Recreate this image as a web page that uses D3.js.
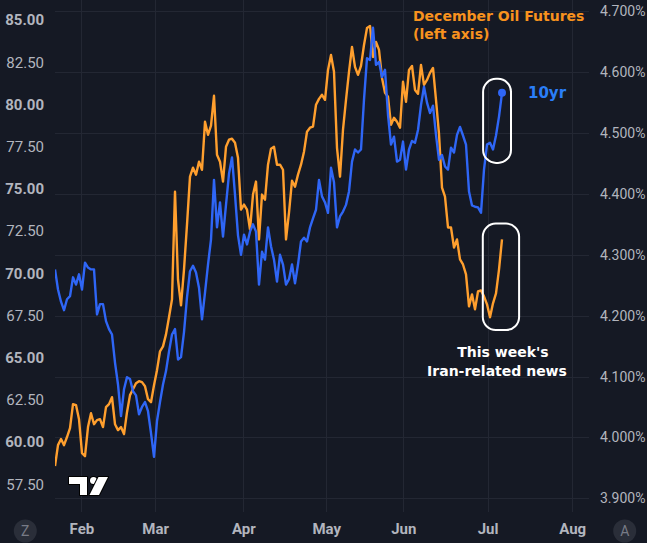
<!DOCTYPE html>
<html>
<head>
<meta charset="utf-8">
<script src="https://cdn.jsdelivr.net/npm/d3@7"></script>
<style>
  html, body { margin: 0; padding: 0; background: #151924; }
  svg { display: block; }
  .ax text { fill: #b2b5be; font-family: Roboto, "Noto Sans", sans-serif; font-size: 15px; }
  .note { font-family: "DejaVu Sans", Verdana, sans-serif; font-weight: bold; }
</style>
</head>
<body>
<svg id="chart" width="647" height="543"></svg>
<script>
// ---- data: one value per bar (session) ----
// December crude oil futures, USD (left axis)
const oil = [
  58.58, 59.82, 60.18, 59.82, 60.30, 60.83, 62.25, 62.19, 61.36, 59.35,
  59.17, 60.89, 61.71, 61.06, 61.30, 61.36, 60.89, 62.07, 62.25, 62.66,
  61.06, 60.71, 60.89, 60.47, 61.77, 62.78, 63.13, 63.49, 63.61, 63.55,
  63.31, 62.54, 62.36, 63.37, 64.26, 65.38, 65.67, 66.38, 67.39, 68.45,
  74.83, 69.63, 68.10, 70.22, 72.88, 75.72, 76.25, 75.84, 76.61, 76.13,
  78.97, 78.20, 78.74, 80.51, 77.02, 76.61, 75.43, 77.49, 77.91, 77.97,
  77.73, 76.84, 73.77, 74.07, 73.77, 72.59, 74.66, 75.43, 72.00, 74.66,
  74.36, 76.43, 77.38, 77.49, 76.43, 76.43, 76.13, 72.00, 73.59, 75.48,
  75.13, 75.84, 76.43, 77.20, 78.38, 78.62, 78.68, 79.98, 80.33, 80.57,
  80.27, 82.04, 82.93, 81.93, 77.43, 75.72, 78.50, 80.27, 81.93, 83.40,
  82.22, 81.75, 82.28, 83.52, 84.53, 84.65, 82.81, 83.70, 83.23, 81.57,
  80.69, 80.45, 78.79, 79.21, 78.97, 78.62, 81.34, 80.15, 82.04, 82.28,
  80.86, 80.63, 82.34, 81.16, 81.45, 81.87, 82.16, 80.27, 78.26, 75.07,
  74.54, 72.71, 72.71, 71.52, 72.00, 70.82, 70.52, 69.93, 68.04, 68.75,
  67.86, 68.92, 68.98, 68.63, 68.16, 67.39, 68.22, 68.81, 70.22, 72.00
];
// US 10-year yield, % (right axis)
const yld = [
  4.276, 4.243, 4.223, 4.209, 4.227, 4.232, 4.263, 4.251, 4.268, 4.243,
  4.287, 4.279, 4.276, 4.276, 4.202, 4.219, 4.219, 4.191, 4.178, 4.169,
  4.123, 4.087, 4.035, 4.079, 4.099, 4.096, 4.076, 4.069, 4.038, 4.050,
  4.058, 4.043, 4.007, 3.968, 4.027, 4.058, 4.087, 4.109, 4.141, 4.169,
  4.178, 4.128, 4.132, 4.173, 4.230, 4.273, 4.282, 4.271, 4.246, 4.194,
  4.238, 4.284, 4.325, 4.423, 4.345, 4.386, 4.330, 4.382, 4.433, 4.460,
  4.399, 4.332, 4.300, 4.333, 4.317, 4.338, 4.350, 4.338, 4.251, 4.305,
  4.292, 4.345, 4.314, 4.292, 4.256, 4.300, 4.284, 4.251, 4.260, 4.284,
  4.253, 4.284, 4.322, 4.328, 4.322, 4.345, 4.360, 4.374, 4.423, 4.396,
  4.386, 4.369, 4.443, 4.419, 4.345, 4.363, 4.371, 4.382, 4.404, 4.453,
  4.473, 4.468, 4.473, 4.555, 4.623, 4.620, 4.673, 4.612, 4.617, 4.592,
  4.604, 4.530, 4.481, 4.494, 4.453, 4.456, 4.486, 4.440, 4.473, 4.487,
  4.484, 4.505, 4.546, 4.576, 4.550, 4.533, 4.545, 4.497, 4.456, 4.464,
  4.445, 4.440, 4.476, 4.468, 4.497, 4.510, 4.496, 4.481, 4.404, 4.381,
  4.379, 4.378, 4.369, 4.440, 4.481, 4.484, 4.473, 4.496, 4.527, 4.566
];
// time axis: month labels and the bar index where each month begins
const months = ["Feb", "Mar", "Apr", "May", "Jun", "Jul", "Aug"];
const monthBar = [8.8, 33.4, 62.8, 90.4, 116.1, 144.2, 172.4];
const lastBar = 178;   // right edge of the pane, in bars
const oilTicks = [57.5, 60, 62.5, 65, 67.5, 70, 72.5, 75, 77.5, 80, 82.5, 85];
const yldTicks = [3.9, 4.0, 4.1, 4.2, 4.3, 4.4, 4.5, 4.6, 4.7];

// highlight boxes around "this week", in data units
const boxYld = { from: 142.7, to: 152.0, lo: 4.451, hi: 4.589 };
const boxOil = { from: 142.6, to: 154.7, lo: 66.64, hi: 72.94 };

const COL = { oil: "#ff9f2e", yld: "#2f66f6", oilText: "#f8921e", yldText: "#2a7ef8",
              grid: "#232733", bg: "#151924" };

// ---- layout ----
const W = 647, H = 543;
const P = { l: 55, r: 589, t: 0, b: 512 };

const x = d3.scaleLinear().domain([0, lastBar]).range([P.l, P.r]);
const yOil = d3.scaleLinear().domain([57.5, 85]).range([484.3, 20]);
const yYld = d3.scaleLinear().domain([3.9, 4.7]).range([498.3, 11.3]);

const svg = d3.select("#chart");
svg.append("rect").attr("width", W).attr("height", H).attr("fill", COL.bg);

svg.append("clipPath").attr("id", "pane")
  .append("rect").attr("x", P.l).attr("y", P.t).attr("width", P.r - P.l).attr("height", P.b - P.t);

// grid: horizontal from the right scale, vertical at month starts
const grid = svg.append("g").attr("stroke", COL.grid).attr("stroke-width", 1);
grid.selectAll("line.h").data(yldTicks).join("line").attr("class", "h")
  .attr("x1", P.l).attr("x2", P.r)
  .attr("y1", (d) => Math.round(yYld(d)) + 0.5).attr("y2", (d) => Math.round(yYld(d)) + 0.5);
grid.selectAll("line.v").data(monthBar).join("line").attr("class", "v")
  .attr("y1", P.t).attr("y2", P.b)
  .attr("x1", (d) => Math.round(x(d)) + 0.5).attr("x2", (d) => Math.round(x(d)) + 0.5);

// ---- axes ----
const fmtOil = d3.format(".2f");
const left = svg.append("g").attr("class", "ax").attr("transform", "translate(44,0)")
  .call(d3.axisLeft(yOil).tickValues(oilTicks).tickSize(0).tickPadding(0).tickFormat(fmtOil));
left.selectAll("text").attr("font-weight", (d) => (d % 5 === 0 ? 700 : 400))
  .attr("fill", (d) => (d % 5 === 0 ? "#bfc2ca" : "#a9acb5"));

const right = svg.append("g").attr("class", "ax").attr("transform", "translate(600,0)")
  .call(d3.axisRight(yYld).tickValues(yldTicks).tickSize(0).tickPadding(0)
    .tickFormat((d) => d3.format(".3f")(d) + "%"));
right.selectAll("text").style("font-size", "14px");

const bottom = svg.append("g").attr("class", "ax").attr("transform", "translate(0,523)")
  .call(d3.axisBottom(x).tickValues(monthBar).tickSize(0).tickPadding(0)
    .tickFormat((d, i) => months[i]));
bottom.selectAll("text").attr("font-weight", 700);

[left, right, bottom].forEach((g) => g.select(".domain").remove());

// ---- series ----
const pane = svg.append("g").attr("clip-path", "url(#pane)");
const lineOil = d3.line().x((d, i) => x(i)).y((d) => yOil(d));
const lineYld = d3.line().x((d, i) => x(i)).y((d) => yYld(d));

pane.append("path").datum(oil).attr("d", lineOil)
  .attr("fill", "none").attr("stroke", COL.oil).attr("stroke-width", 2.4)
  .attr("stroke-linejoin", "round");
pane.append("path").datum(yld).attr("d", lineYld)
  .attr("fill", "none").attr("stroke", COL.yld).attr("stroke-width", 2.4)
  .attr("stroke-linejoin", "round");
pane.append("circle")
  .attr("cx", x(yld.length - 1)).attr("cy", yYld(yld[yld.length - 1])).attr("r", 4)
  .attr("fill", COL.yld);

// ---- annotations ----
function box(b, y) {
  svg.append("rect")
    .attr("x", x(b.from)).attr("width", x(b.to) - x(b.from))
    .attr("y", y(b.hi)).attr("height", y(b.lo) - y(b.hi))
    .attr("rx", 13).attr("fill", "none").attr("stroke", "#ffffff").attr("stroke-width", 2);
}
box(boxYld, yYld);
box(boxOil, yOil);

const note = svg.append("g").attr("class", "note");
note.append("text").attr("x", 413).attr("y", 21).attr("font-size", 14)
  .attr("fill", COL.oilText).text("December Oil Futures");
note.append("text").attr("x", 413).attr("y", 39).attr("font-size", 14)
  .attr("fill", COL.oilText).text("(left axis)");
note.append("text").attr("x", 528).attr("y", 98).attr("font-size", 15)
  .attr("fill", COL.yldText).text("10yr");
note.append("text").attr("x", 503).attr("y", 357).attr("font-size", 14)
  .attr("text-anchor", "middle").attr("fill", "#ffffff").text("This week's");
note.append("text").attr("x", 497).attr("y", 375.5).attr("font-size", 14)
  .attr("text-anchor", "middle").attr("fill", "#ffffff").text("Iran-related news");

// ---- chrome: logo and the two round scale buttons ----
const logo = svg.append("g").attr("transform", "translate(68,475)")
  .attr("fill", "#ffffff").attr("stroke", "#000000").attr("stroke-width", 2)
  .attr("paint-order", "stroke").attr("stroke-linejoin", "round");
logo.append("path").attr("d", "M1,2 H19 V20 H12 V9 H1 Z");
logo.append("circle").attr("cx", 25.5).attr("cy", 5.5).attr("r", 3.5);
logo.append("path").attr("d", "M30.5,2 H40 L31,20 H21.5 Z");

[["Z", 25.3], ["A", 624.7]].forEach(([t, cx]) => {
  svg.append("circle").attr("cx", cx).attr("cy", 531).attr("r", 11.5).attr("fill", "#2a2e39");
  svg.append("text").attr("x", cx).attr("y", 531).attr("dy", "0.36em")
    .attr("text-anchor", "middle").attr("font-family", "Roboto, sans-serif")
    .attr("font-size", 14).attr("fill", "#787b86").text(t);
});
</script>
</body>
</html>
